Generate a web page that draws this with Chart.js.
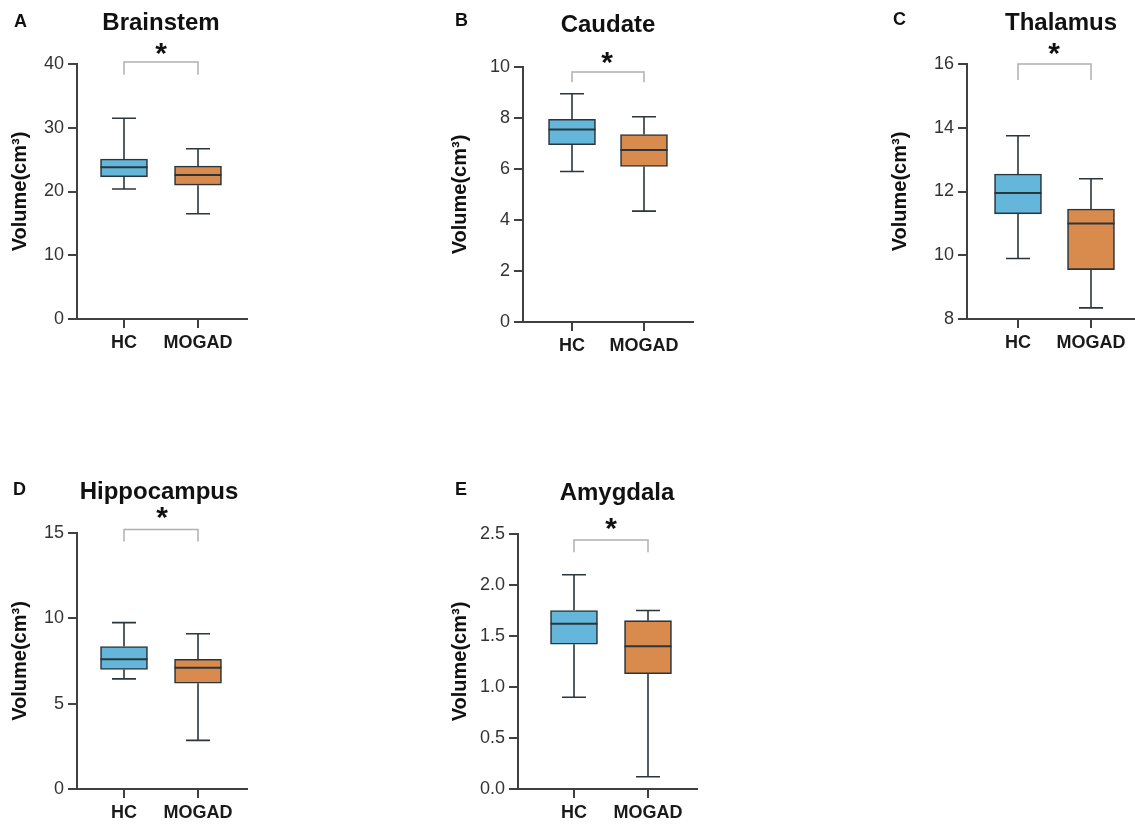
<!DOCTYPE html>
<html>
<head>
<meta charset="utf-8">
<script src="https://cdn.jsdelivr.net/npm/chart.js@4.4.1/dist/chart.umd.min.js"></script>
<style>
  html, body { margin: 0; padding: 0; background: #ffffff; }
  body { width: 1135px; height: 824px; position: relative; overflow: hidden; }
  .panel { position: absolute; }
</style>
</head>
<body>
<div class="panel" id="p0"><canvas id="c0"></canvas></div>
<div class="panel" id="p1"><canvas id="c1"></canvas></div>
<div class="panel" id="p2"><canvas id="c2"></canvas></div>
<div class="panel" id="p3"><canvas id="c3"></canvas></div>
<div class="panel" id="p4"><canvas id="c4"></canvas></div>
<script>
// ---------------- data ----------------
const categories = ['HC', 'MOGAD'];
const regions = ['Brainstem', 'Caudate', 'Thalamus', 'Hippocampus', 'Amygdala'];
const letters = ['A', 'B', 'C', 'D', 'E'];
const yTitle = 'Volume(cm\u00B3)';

const hcMin    = [20.4, 5.9, 9.9, 6.45, 0.90];
const hcQ1     = [22.3, 6.95, 11.3, 7.0, 1.42];
const hcMedian = [23.8, 7.55, 11.95, 7.6, 1.62];
const hcQ3     = [25.1, 7.95, 12.55, 8.35, 1.75];
const hcMax    = [31.5, 8.95, 13.75, 9.75, 2.10];

const mogadMin    = [16.5, 4.35, 8.35, 2.85, 0.12];
const mogadQ1     = [21.0, 6.1, 9.55, 6.2, 1.13];
const mogadMedian = [22.6, 6.75, 11.0, 7.1, 1.40];
const mogadQ3     = [24.0, 7.35, 11.45, 7.6, 1.65];
const mogadMax    = [26.7, 8.05, 12.4, 9.1, 1.75];

const yMin  = [0, 0, 8, 0, 0];
const yMax  = [40, 10, 16, 15, 2.5];
const yStep = [10, 2, 2, 5, 0.5];
const yDecimals = [0, 0, 0, 0, 1];

const significance = ['*', '*', '*', '*', '*'];
const bracketTop = [40.3, 9.8, 16.0, 15.2, 2.44];
const bracketEnd = [38.3, 9.4, 15.5, 14.5, 2.32];

// ---------------- layout (pixels) ----------------
const canvasBox = [[0,0,440,400],[440,0,440,400],[880,0,255,400],[0,440,440,384],[440,440,440,384]];
const plotBox   = [[77,247,64,319],[83,253,67,322],[87,255,64,319],[77,247,93,349],[78,257,94,349]]; // left,right,top,bottom
const catPix    = [[124,198],[132,204],[138,211],[124,198],[134,208]];
const titlePos  = [[161,23],[168,25],[181,23],[159,52],[177,53]];
const letterPos = [[14,22],[15,21],[13,20],[13,50],[15,50]];
const starPos   = [[161,48],[167,57],[174,48],[162,72],[171,83]];

const FONT = "'Liberation Sans', Arial, Helvetica, sans-serif";
const COLORS = ['#64b7da', '#d98b4d'];
const EDGE = '#2b363b';
const AXIS = '#404040';

const boxPlugin = {
  id: 'boxExtras',
  afterDatasetsDraw(chart) {
    const i = chart.options.plugins.boxExtras.panel;
    const ctx = chart.ctx;
    const xs = chart.scales.x, ys = chart.scales.y;
    const stats = [
      [hcMin[i], hcQ1[i], hcMedian[i], hcQ3[i], hcMax[i]],
      [mogadMin[i], mogadQ1[i], mogadMedian[i], mogadQ3[i], mogadMax[i]]
    ];
    ctx.save();
    ctx.strokeStyle = EDGE;
    ctx.lineCap = 'butt';
    stats.forEach((s, k) => {
      const cx = xs.getPixelForValue(k);
      const pMin = ys.getPixelForValue(s[0]);
      const pQ1 = ys.getPixelForValue(s[1]);
      const pMed = ys.getPixelForValue(s[2]);
      const pQ3 = ys.getPixelForValue(s[3]);
      const pMax = ys.getPixelForValue(s[4]);
      ctx.lineWidth = 1.6;
      ctx.beginPath();
      ctx.moveTo(cx, pQ3); ctx.lineTo(cx, pMax);
      ctx.moveTo(cx - 12, pMax); ctx.lineTo(cx + 12, pMax);
      ctx.moveTo(cx, pQ1); ctx.lineTo(cx, pMin);
      ctx.moveTo(cx - 12, pMin); ctx.lineTo(cx + 12, pMin);
      ctx.stroke();
      ctx.lineWidth = 2;
      ctx.beginPath();
      ctx.moveTo(cx - 23.5, pMed); ctx.lineTo(cx + 23.5, pMed);
      ctx.stroke();
    });
    // significance bracket
    const x0 = xs.getPixelForValue(0), x1 = xs.getPixelForValue(1);
    const yt = ys.getPixelForValue(bracketTop[i]), ye = ys.getPixelForValue(bracketEnd[i]);
    ctx.strokeStyle = '#b0b0b0';
    ctx.lineWidth = 1.5;
    ctx.beginPath();
    ctx.moveTo(x0, ye); ctx.lineTo(x0, yt); ctx.lineTo(x1, yt); ctx.lineTo(x1, ye);
    ctx.stroke();
    ctx.restore();
  },
  afterDraw(chart) {
    const i = chart.options.plugins.boxExtras.panel;
    const ctx = chart.ctx;
    ctx.save();
    ctx.fillStyle = '#111';
    ctx.textBaseline = 'middle';
    ctx.font = "bold 24px " + FONT;
    ctx.textAlign = 'center';
    ctx.fillText(regions[i], titlePos[i][0], titlePos[i][1]);
    ctx.font = "bold 18px " + FONT;
    ctx.textAlign = 'left';
    ctx.fillText(letters[i], letterPos[i][0], letterPos[i][1]);
    ctx.font = "bold 30px " + FONT;
    ctx.textAlign = 'center';
    ctx.fillText(significance[i], starPos[i][0], starPos[i][1] + 7);
    ctx.restore();
  }
};

function makeChart(i) {
  const [cl, ct, cw, ch] = canvasBox[i];
  const [pl, pr, pt, pb] = plotBox[i];
  const [h0, h1] = catPix[i];
  const spacing = h1 - h0;
  const xMinV = -(h0 - pl) / spacing;
  const xMaxV = 1 + (pr - h1) / spacing;
  const div = document.getElementById('p' + i);
  div.style.left = cl + 'px'; div.style.top = ct + 'px';
  div.style.width = cw + 'px'; div.style.height = ch + 'px';
  const xHeight = 40;
  new Chart(document.getElementById('c' + i), {
    type: 'bar',
    data: {
      datasets: [{
        data: categories.map((c, k) => ({
          x: k,
          y: k === 0 ? [hcQ1[i], hcQ3[i]] : [mogadQ1[i], mogadQ3[i]]
        })),
        backgroundColor: COLORS,
        borderColor: EDGE,
        borderWidth: 1.6,
        borderSkipped: false,
        barThickness: 47
      }]
    },
    options: {
      responsive: true,
      maintainAspectRatio: false,
      animation: false,
      devicePixelRatio: 1,
      layout: { padding: { left: 0, top: pt, right: cw - pr, bottom: ch - pb - xHeight } },
      plugins: {
        legend: { display: false },
        tooltip: { enabled: false },
        boxExtras: { panel: i }
      },
      scales: {
        x: {
          type: 'linear',
          offset: false,
          min: xMinV, max: xMaxV,
          afterBuildTicks: (s) => { s.ticks = categories.map((c, k) => ({ value: k })); },
          afterFit: (s) => { s.height = xHeight; },
          ticks: {
            callback: (v) => categories[v] !== undefined ? categories[v] : '',
            font: { family: FONT, size: 18, weight: 'bold' },
            color: '#1a1a1a',
            padding: 4,
            maxRotation: 0,
            autoSkip: false
          },
          grid: { offset: false, drawOnChartArea: false, drawTicks: true, tickLength: 9, color: AXIS, lineWidth: 2 },
          border: { display: true, color: AXIS, width: 2 }
        },
        y: {
          min: yMin[i], max: yMax[i],
          afterFit: (s) => { s.width = pl; },
          ticks: {
            stepSize: yStep[i],
            callback: (v) => Number(v).toFixed(yDecimals[i]),
            font: { family: FONT, size: 18 },
            color: '#333',
            padding: 4
          },
          grid: { drawOnChartArea: false, drawTicks: true, tickLength: 9, color: AXIS, lineWidth: 2 },
          border: { display: true, color: AXIS, width: 2 },
          title: {
            display: true,
            text: yTitle,
            font: { family: FONT, size: 20, weight: 'bold' },
            color: '#111',
            padding: { top: 8, bottom: 0 }
          }
        }
      }
    },
    plugins: [boxPlugin]
  });
}
for (let i = 0; i < 5; i++) makeChart(i);
</script>
</body>
</html>
